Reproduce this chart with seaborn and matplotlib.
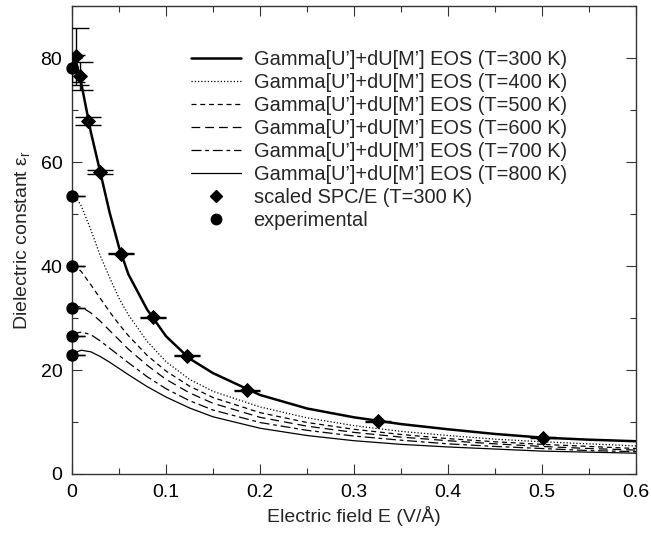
import matplotlib
matplotlib.use("Agg")
import matplotlib.pyplot as plt
import seaborn as sns
from matplotlib.legend_handler import HandlerLine2D
from matplotlib.lines import Line2D
from matplotlib.ticker import FuncFormatter, MultipleLocator

# field grid (V/A) on which the EOS curves are read
E_GRID = [0, 0.005, 0.01, 0.02, 0.03, 0.04, 0.05, 0.06, 0.08, 0.1, 0.125, 0.15,
          0.2, 0.25, 0.3, 0.35, 0.4, 0.45, 0.5, 0.55, 0.6]
EPS_300 = [80.0, 78.8, 75.0, 65.8, 58.1, 50.3, 43.6, 38.4, 31.6, 26.5, 22.2, 19.4,
           15.2, 12.6, 10.9, 9.6, 8.6, 7.7, 7.0, 6.6, 6.3]
EPS_400 = [53.5, 53.0, 51.5, 47.0, 42.0, 37.8, 33.8, 30.6, 25.5, 21.6, 18.2, 15.9,
           12.9, 10.8, 9.3, 8.2, 7.4, 6.7, 6.2, 5.8, 5.4]
EPS_500 = [40.0, 39.8, 38.9, 36.4, 33.8, 31.2, 28.8, 26.6, 22.8, 19.8, 16.9, 14.7,
           11.8, 9.9, 8.6, 7.6, 6.8, 6.2, 5.7, 5.3, 4.9]
EPS_600 = [31.9, 32.2, 32.1, 31.0, 29.4, 27.6, 25.8, 24.0, 20.9, 18.2, 15.6, 13.6,
           10.9, 9.2, 8.0, 7.1, 6.4, 5.8, 5.3, 4.9, 4.6]
EPS_700 = [26.6, 27.1, 27.3, 26.8, 25.6, 24.2, 22.8, 21.4, 18.7, 16.4, 14.1, 12.3,
           9.9, 8.4, 7.3, 6.5, 5.8, 5.3, 4.9, 4.5, 4.3]
EPS_800 = [22.9, 23.5, 23.8, 23.5, 22.6, 21.5, 20.3, 19.1, 16.8, 14.8, 12.7, 11.0,
           8.8, 7.4, 6.4, 5.7, 5.2, 4.8, 4.4, 4.2, 4.0]

# scaled SPC/E simulation points (T=300 K)
SPCE_E = [0.004, 0.0085, 0.0175, 0.030, 0.052, 0.086, 0.122, 0.1865, 0.326, 0.501]
SPCE_EPS = [80.3, 76.5, 67.9, 58.1, 42.4, 30.1, 22.7, 16.1, 10.1, 7.0]
SPCE_ERR = [5.4, 2.7, 0.7, 0.4, 0.1, 0.1, 0.1, 0.1, 0.1, 0.1]

# experimental zero-field values, T = 300..800 K
EXP_E = [0, 0, 0, 0, 0, 0]
EXP_EPS = [78.0, 53.5, 40.0, 31.9, 26.6, 22.9]
EXP_ERR = [2.6, 0, 0, 0, 0, 0]

TEMPS = [300, 400, 500, 600, 700, 800]
CURVES = [EPS_300, EPS_400, EPS_500, EPS_600, EPS_700, EPS_800]
STYLES = [
    dict(lw=1.8, ls="-"),
    dict(lw=0.9, ls=(0, (1, 1.6))),
    dict(lw=0.9, ls=(0, (4, 3))),
    dict(lw=0.9, ls=(0, (7, 4))),
    dict(lw=0.9, ls=(0, (8, 3, 3, 3))),
    dict(lw=0.9, ls="-"),
]


class RightMarker(HandlerLine2D):
    # gnuplot puts point samples at the right end of the key sample
    def get_xdata(self, legend, xdescent, ydescent, width, height, fontsize):
        xdata, _ = super().get_xdata(legend, xdescent, ydescent, width, height, fontsize)
        return xdata, [width - xdescent - 3]


sns.set_style("ticks")
plt.rcParams["font.family"] = ["Liberation Sans", "DejaVu Sans"]
plt.rcParams["mathtext.default"] = "regular"

fig = plt.figure(figsize=(6.51, 5.33), dpi=100)
ax = fig.add_axes([0.1106, 0.1107, 0.8664, 0.878])

handles = []
for T, eps, st in zip(TEMPS, CURVES, STYLES):
    sns.lineplot(x=E_GRID, y=eps, ax=ax, color="black", lw=st["lw"], linestyle=st["ls"])
    handles.append(Line2D([], [], color="black", lw=st["lw"], linestyle=st["ls"],
                          label=f"Gamma[U\u2019]+dU[M\u2019] EOS (T={T} K)"))

ax.errorbar(SPCE_E, SPCE_EPS, yerr=SPCE_ERR, fmt="none", ecolor="black",
            elinewidth=1.0, capsize=9.5, capthick=1.0, zorder=3)
ax.errorbar(EXP_E, EXP_EPS, yerr=EXP_ERR, fmt="none", ecolor="black",
            elinewidth=1.0, capsize=9.5, capthick=1.0, zorder=3)
sns.scatterplot(x=SPCE_E, y=SPCE_EPS, ax=ax, marker="D", s=60, color="black",
                edgecolor="black", linewidth=0, zorder=4)
sns.scatterplot(x=EXP_E, y=EXP_EPS, ax=ax, marker="o", s=80, color="black",
                edgecolor="black", linewidth=0, zorder=4, clip_on=False)

spce_h = Line2D([], [], color="black", marker="D", ls="none", ms=6,
                label="scaled SPC/E (T=300 K)")
exp_h = Line2D([], [], color="black", marker="o", ls="none", ms=7.5,
               label="experimental")
handles += [spce_h, exp_h]
ax.legend(handles=handles, loc="upper right", bbox_to_anchor=(0.895, 0.927),
          frameon=False, fontsize=14.4, handlelength=2.5, handletextpad=0.65,
          labelspacing=0.2, borderpad=0,
          handler_map={spce_h: RightMarker(numpoints=1), exp_h: RightMarker(numpoints=1)})

ax.set_xlim(0, 0.6)
ax.set_ylim(0, 90)
ax.xaxis.set_major_locator(MultipleLocator(0.1))
ax.xaxis.set_minor_locator(MultipleLocator(0.05))
ax.yaxis.set_major_locator(MultipleLocator(20))
ax.yaxis.set_minor_locator(MultipleLocator(10))
ax.xaxis.set_major_formatter(FuncFormatter(lambda v, _: "0" if abs(v) < 1e-9 else f"{v:.1f}"))
ax.tick_params(which="both", direction="in", top=True, right=True, colors="#333333",
               labelcolor="black", labelsize=14, width=0.8, pad=7)
ax.tick_params(which="major", length=7)
ax.tick_params(which="minor", length=4)
for sp in ax.spines.values():
    sp.set_color("#333333")
    sp.set_linewidth(1.0)

ax.set_xlabel("Electric field E (V/\u00c5)", fontsize=14, labelpad=4)
ax.set_ylabel("Dielectric constant \u03b5$_r$", fontsize=14, labelpad=6)

fig.savefig("out.png", dpi=100)
